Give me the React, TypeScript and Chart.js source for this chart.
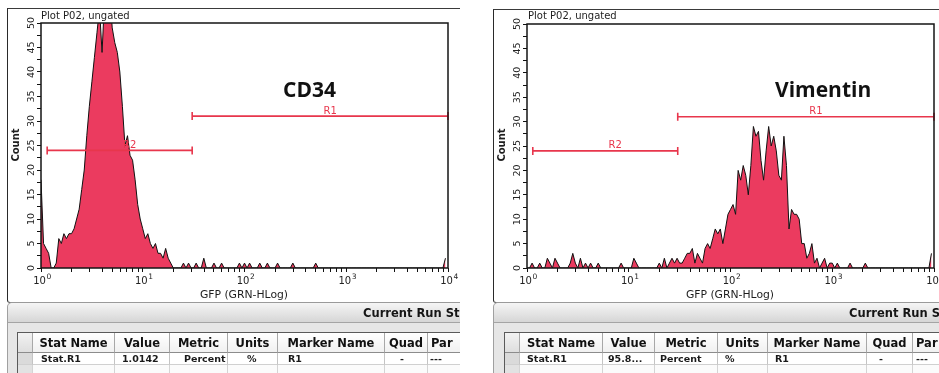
import React, { useEffect, useRef } from "react";
import { Chart, registerables } from "chart.js";

Chart.register(...registerables);

// ---------- data ----------
// histogram channels: one bin every 0.025 decade from 10^0 to 10^4 (160 bins)
const BIN_WIDTH_DECADES = 0.025;

const cd34Counts = [
  18, 5, 4, 3, 0, 0, 1, 6, 5, 7,
  6, 7, 7, 8, 10, 12, 16, 20, 27, 33,
  38, 43, 48, 53, 44, 55, 53, 56, 49, 46,
  44, 40, 33, 25, 27, 23, 22, 18, 13, 10,
  8, 6, 7, 5, 4, 5, 3, 3, 2, 4,
  2, 1, 0, 0, 0, 0, 1, 0, 1, 0,
  0, 1, 0, 0, 2, 0, 0, 0, 1, 0,
  0, 1, 0, 0, 0, 0, 0, 0, 1, 0,
  1, 0, 1, 0, 0, 0, 1, 0, 0, 1,
  0, 0, 0, 1, 0, 0, 0, 0, 0, 1,
  0, 0, 0, 0, 0, 0, 0, 0, 1, 0,
  0, 0, 0, 0, 0, 0, 0, 0, 0, 0,
  0, 0, 0, 0, 0, 0, 0, 0, 0, 0,
  0, 0, 0, 0, 0, 0, 0, 0, 0, 0,
  0, 0, 0, 0, 0, 0, 0, 0, 0, 0,
  0, 0, 0, 0, 0, 0, 0, 0, 0, 2,
];

const vimentinCounts = [
  0, 0, 1, 0, 0, 1, 0, 0, 2, 1,
  0, 2, 1, 0, 0, 0, 0, 1, 3, 1,
  0, 2, 0, 1, 0, 1, 0, 0, 1, 0,
  0, 0, 0, 0, 0, 0, 0, 1, 0, 0,
  0, 0, 2, 1, 0, 0, 0, 0, 0, 0,
  0, 0, 1, 0, 2, 0, 1, 2, 1, 2,
  1, 1, 2, 3, 3, 4, 1, 3, 2, 1,
  4, 5, 4, 6, 8, 7, 8, 5, 8, 11,
  12, 13, 11, 20, 18, 21, 19, 15, 21, 29,
  27, 28, 22, 18, 24, 29, 25, 27, 24, 19,
  18, 27, 21, 8, 12, 11, 11, 10, 5, 5,
  2, 3, 5, 1, 2, 0, 1, 2, 0, 1,
  1, 0, 1, 0, 0, 0, 0, 1, 0, 0,
  0, 0, 0, 1, 0, 0, 0, 0, 0, 0,
  0, 0, 0, 0, 0, 0, 0, 0, 0, 0,
  0, 0, 0, 0, 0, 0, 0, 0, 0, 3,
];

const xMajorDecades = [0, 1, 2, 3, 4];
const xTickBase = "10";
const xTickExponents = ["0", "1", "2", "3", "4"];
const xMinorMultipliers = [2, 3, 4, 5, 6, 7, 8, 9];
const yMax = 50;
const yLabelValues = [0, 5, 10, 15, 20, 25, 30, 35, 40, 45, 50];
const yTickStep = 2.5;

const markerNames = ["R1", "R2"];
const cd34MarkerStart = [30.6, 1.15];
const cd34MarkerEnd = [10000, 30.6];
const cd34MarkerLevel = [31, 24];
const vimMarkerStart = [30.3, 1.14];
const vimMarkerEnd = [10000, 30.3];
const vimMarkerLevel = [31, 24];

const tableHeaders = ["", "Stat Name", "Value", "Metric", "Units", "Marker Name", "Quad", "Par"];
const cd34Row = ["", "Stat.R1", "1.0142", "Percent", "%", "R1", "-", "---"];
const vimRow = ["", "Stat.R1", "95.8...", "Percent", "%", "R1", "-", "---"];

// ---------- styles ----------
const FILL = "#EB3B5F";
const MARKER = "#E8364C";
const FONT = '"DejaVu Sans", Verdana, sans-serif';

type HistProps = {
  counts: number[];
  mStart: number[];
  mEnd: number[];
  mLevel: number[];
  left: number;
  width: number;
  padTop: number;
  padRight: number;
  yAxisWidth: number;
  plotBottom: number;
};

function Histogram(p: HistProps) {
  const ref = useRef<HTMLCanvasElement | null>(null);
  useEffect(() => {
    const canvas = ref.current!;
    const xTicks: number[] = [];
    xMajorDecades.forEach((d) => {
      xTicks.push(d);
      if (d < 4) xMinorMultipliers.forEach((k) => xTicks.push(d + Math.log10(k)));
    });
    const yTicks: number[] = [];
    for (let v = 0; v <= yMax + 1e-9; v += yTickStep) yTicks.push(v);

    const plugin = {
      id: "facsDecor",
      afterDatasetsDraw(chart: any) {
        const { ctx, scales } = chart;
        const xs = scales.x;
        const ys = scales.y;
        ctx.save();
        ctx.strokeStyle = MARKER;
        ctx.fillStyle = MARKER;
        ctx.lineWidth = 1.6;
        ctx.font = `10px ${FONT}`;
        ctx.textAlign = "center";
        ctx.textBaseline = "middle";
        markerNames.forEach((name, i) => {
          const x1 = xs.getPixelForValue(Math.log10(p.mStart[i]));
          const x2 = xs.getPixelForValue(Math.log10(p.mEnd[i]));
          const yy = ys.getPixelForValue(p.mLevel[i]);
          ctx.beginPath();
          ctx.moveTo(x1, yy);
          ctx.lineTo(x2, yy);
          ctx.moveTo(x1, yy - 4);
          ctx.lineTo(x1, yy + 4);
          ctx.moveTo(x2, yy - 4);
          ctx.lineTo(x2, yy + 4);
          ctx.stroke();
          ctx.fillText(name, (x1 + x2) / 2 + 10, yy - 5);
        });
        ctx.restore();
      },
      afterDraw(chart: any) {
        const { ctx, chartArea, scales } = chart;
        const xs = scales.x;
        const ys = scales.y;
        ctx.save();
        ctx.strokeStyle = "#151515";
        ctx.lineWidth = 1.5;
        ctx.strokeRect(chartArea.left, chartArea.top, chartArea.right - chartArea.left, chartArea.bottom - chartArea.top);
        ctx.fillStyle = "#222";
        ctx.font = `9.5px ${FONT}`;
        ctx.textAlign = "center";
        ctx.textBaseline = "middle";
        yLabelValues.forEach((v) => {
          const py = ys.getPixelForValue(v);
          ctx.save();
          ctx.translate(chartArea.left - 9.5, py);
          ctx.rotate(-Math.PI / 2);
          ctx.fillText(String(v), 0, 0);
          ctx.restore();
        });
        // x labels: 10 with superscript exponent
        xMajorDecades.forEach((d, i) => {
          const px = xs.getPixelForValue(d);
          ctx.font = `10px ${FONT}`;
          const wBase = ctx.measureText(xTickBase).width;
          ctx.font = `7.5px ${FONT}`;
          const wExp = ctx.measureText(xTickExponents[i]).width;
          const total = wBase + wExp;
          const x0 = px - total / 2 + 1;
          ctx.textAlign = "left";
          ctx.textBaseline = "alphabetic";
          ctx.font = `10px ${FONT}`;
          ctx.fillText(xTickBase, x0, chartArea.bottom + 16);
          ctx.font = `7.5px ${FONT}`;
          ctx.fillText(xTickExponents[i], x0 + wBase + 0.5, chartArea.bottom + 11);
        });
        ctx.restore();
      },
    };

    const chart = new Chart(canvas, {
      type: "line",
      data: {
        datasets: [
          {
            data: p.counts.map((c, i) => ({ x: i * BIN_WIDTH_DECADES, y: c })),
            borderColor: "#111",
            borderWidth: 1,
            backgroundColor: FILL,
            fill: "origin",
            pointRadius: 0,
            tension: 0,
          },
        ],
      },
      options: {
        animation: false,
        responsive: false,
        maintainAspectRatio: false,
        devicePixelRatio: 1,
        events: [],
        layout: { padding: { left: 0, top: p.padTop, right: p.padRight, bottom: 0 } },
        plugins: { legend: { display: false }, tooltip: { enabled: false }, title: { display: false } },
        scales: {
          x: {
            type: "linear",
            min: 0,
            max: 4,
            afterFit: (s: any) => {
              s.height = 302 - p.plotBottom;
            },
            afterBuildTicks: (s: any) => {
              s.ticks = xTicks.map((v) => ({ value: v }));
            },
            ticks: {
              autoSkip: false,
              maxRotation: 0,
              minRotation: 0,
              padding: 2,
              color: "#222",
              font: { family: "DejaVu Sans", size: 9.5 },
              callback: () => "",
            },
            grid: { drawOnChartArea: false, drawTicks: true, tickLength: 4, color: "#111", lineWidth: 1 },
            border: { display: false },
          },
          y: {
            type: "linear",
            min: 0,
            max: yMax,
            afterFit: (s: any) => {
              s.width = p.yAxisWidth;
            },
            afterBuildTicks: (s: any) => {
              s.ticks = yTicks.map((v) => ({ value: v }));
            },
            ticks: { display: false },
            grid: { drawOnChartArea: false, drawTicks: true, tickLength: 4, color: "#111", lineWidth: 1 },
            border: { display: false },
          },
        },
      } as any,
      plugins: [plugin as any],
    });
    return () => chart.destroy();
  }, []);
  return (
    <canvas ref={ref} width={p.width} height={302} style={{ position: "absolute", left: p.left, top: 0 }} />
  );
}

type TableProps = {
  cols: number[];
  row: string[];
  offsets: number[];
};

function StatTable({ cols, row, offsets }: TableProps) {
  const cells: React.ReactNode[] = [];
  const last = cols.length - 2;
  for (let c = 0; c < cols.length - 1; c++) {
    const l = cols[c];
    const w = cols[c + 1] - cols[c];
    cells.push(
      <div
        key={"h" + c}
        style={{
          position: "absolute",
          left: l,
          top: 333,
          width: w - 1 - (c === last ? 3 : 0),
          height: 19,
          paddingLeft: c === last ? 3 : 0,
          borderRight: "1px solid #a8a8a8",
          borderBottom: "1px solid #8c8c8c",
          background: c === 0 ? "linear-gradient(#f2f2f2,#dedede)" : "linear-gradient(#ffffff,#f1f1f1)",
          font: `bold 11.5px ${FONT}`,
          color: "#111",
          textAlign: c === last ? "left" : "center",
          lineHeight: "20px",
          whiteSpace: "nowrap",
          overflow: "hidden",
        }}
      >
        {tableHeaders[c]}
      </div>
    );
    cells.push(
      <div
        key={"d" + c}
        style={{
          position: "absolute",
          left: l,
          top: 353,
          width: w - 1 - offsets[c],
          height: 11,
          borderRight: "1px solid #c4c4c4",
          borderBottom: "1px solid #d0d0d0",
          background: c === 0 ? "#dadada" : "#ffffff",
          font: `bold 9.5px ${FONT}`,
          color: "#1a1a1a",
          lineHeight: "12px",
          paddingLeft: offsets[c],
          boxSizing: "content-box",
          whiteSpace: "nowrap",
          overflow: "hidden",
        }}
      >
        {row[c]}
      </div>
    );
    cells.push(
      <div
        key={"e" + c}
        style={{
          position: "absolute",
          left: l,
          top: 365,
          width: w - 1,
          height: 12,
          borderRight: "1px solid #d4d4d4",
          background: c === 0 ? "#e2e2e2" : "#fbfbfb",
        }}
      />
    );
  }
  return (
    <>
      <div
        style={{
          position: "absolute",
          left: cols[0] - 1,
          top: 332,
          width: 1000,
          height: 60,
          borderTop: "1px solid #5a5a5a",
          borderLeft: "1px solid #5a5a5a",
        }}
      />
      {cells}
    </>
  );
}

type PanelProps = {
  clipLeft: number;
  clipWidth: number;
  frameLeft: number;
  frameTop: number;
  plotLeft: number;
  titleTop: number;
  countX: number;
  gfpX: number;
  annotation: string;
  annotationLeft: number;
  headerTextLeft: number;
  chart: React.ReactNode;
  table: React.ReactNode;
};

function Panel(p: PanelProps) {
  const o = p.clipLeft;
  return (
    <div style={{ position: "absolute", left: o, top: 0, width: p.clipWidth, height: 373, overflow: "hidden" }}>
      <div style={{ position: "absolute", left: -o, top: 0, width: 939, height: 373 }}>
        {/* plot window frame */}
        <div
          style={{
            position: "absolute",
            left: p.frameLeft,
            top: p.frameTop,
            width: 1000,
            height: 302 - p.frameTop - 1,
            borderTop: "1px solid #3a3a3a",
            borderLeft: "1.5px solid #2a2a2a",
            borderBottom: "1px solid #555",
            borderBottomLeftRadius: 3,
            background: "#fff",
          }}
        />
        {p.chart}
        <div
          style={{
            position: "absolute",
            left: p.plotLeft,
            top: p.titleTop,
            font: `10px ${FONT}`,
            color: "#1e1e1e",
            whiteSpace: "nowrap",
            lineHeight: "12px",
          }}
        >
          Plot P02, ungated
        </div>
        <div
          style={{
            position: "absolute",
            left: p.countX - 30,
            top: 145 - 6,
            width: 60,
            height: 12,
            textAlign: "center",
            font: `bold 10px ${FONT}`,
            color: "#1e1e1e",
            lineHeight: "12px",
            transform: "rotate(-90deg)",
          }}
        >
          Count
        </div>
        <div
          style={{
            position: "absolute",
            left: p.gfpX - 80,
            top: 288,
            width: 160,
            textAlign: "center",
            font: `10.8px ${FONT}`,
            color: "#1e1e1e",
            lineHeight: "13px",
            whiteSpace: "nowrap",
          }}
        >
          GFP (GRN-HLog)
        </div>
        <div
          style={{
            position: "absolute",
            left: p.annotationLeft,
            top: 79,
            font: `bold 21px "Open Sans", "DejaVu Sans", sans-serif`,
            color: "#111",
            lineHeight: "21px",
            whiteSpace: "nowrap",
          }}
        >
          {p.annotation}
        </div>
        {/* stats window */}
        <div
          style={{
            position: "absolute",
            left: p.frameLeft,
            top: 302,
            width: 1000,
            height: 80,
            background: "#e6e6e6",
            borderTop: "1px solid #9a9a9a",
            borderLeft: "1px solid #a0a0a0",
            borderTopLeftRadius: 5,
          }}
        >
          <div
            style={{
              position: "absolute",
              left: 0,
              top: 0,
              right: 0,
              height: 19,
              background: "linear-gradient(#f5f5f5,#d6d6d6)",
              borderBottom: "1px solid #a4a4a4",
              borderTopLeftRadius: 5,
            }}
          />
          <div
            style={{
              position: "absolute",
              left: p.headerTextLeft - p.frameLeft,
              top: 4,
              font: `bold 11.5px ${FONT}`,
              color: "#151515",
              whiteSpace: "nowrap",
              lineHeight: "13px",
            }}
          >
            Current Run Stats
          </div>
        </div>
        {p.table}
      </div>
    </div>
  );
}

export default function App() {
  return (
    <div
      style={{
        position: "absolute",
        left: 0,
        top: 0,
        width: 939,
        height: 373,
        overflow: "hidden",
        background: "#ffffff",
      }}
    >
      <Panel
        clipLeft={0}
        clipWidth={460}
        frameLeft={7}
        frameTop={8}
        plotLeft={41}
        titleTop={9.5}
        countX={16}
        gfpX={244}
        annotation="CD34"
        annotationLeft={283}
        headerTextLeft={362}
        chart={
          <Histogram
            counts={cd34Counts}
            mStart={cd34MarkerStart}
            mEnd={cd34MarkerEnd}
            mLevel={cd34MarkerLevel}
            left={0}
            width={460}
            padTop={23}
            padRight={12}
            yAxisWidth={41}
            plotBottom={268}
          />
        }
        table={
          <StatTable cols={[18, 33, 115, 170, 228, 278, 385, 428, 520]} row={cd34Row} offsets={[0, 8, 7, 14, 19, 10, 15, 2]} />
        }
      />
      <Panel
        clipLeft={470}
        clipWidth={469}
        frameLeft={493}
        frameTop={9}
        plotLeft={528}
        titleTop={10}
        countX={502}
        gfpX={730}
        annotation="Vimentin"
        annotationLeft={775}
        headerTextLeft={848}
        chart={
          <Histogram
            counts={vimentinCounts}
            mStart={vimMarkerStart}
            mEnd={vimMarkerEnd}
            mLevel={vimMarkerLevel}
            left={470}
            width={480}
            padTop={24}
            padRight={16}
            yAxisWidth={57}
            plotBottom={268}
          />
        }
        table={
          <StatTable cols={[505, 520, 603, 655, 718, 768, 867, 913, 1000]} row={vimRow} offsets={[0, 7, 5, 5, 7, 7, 12, 3]} />
        }
      />
    </div>
  );
}
